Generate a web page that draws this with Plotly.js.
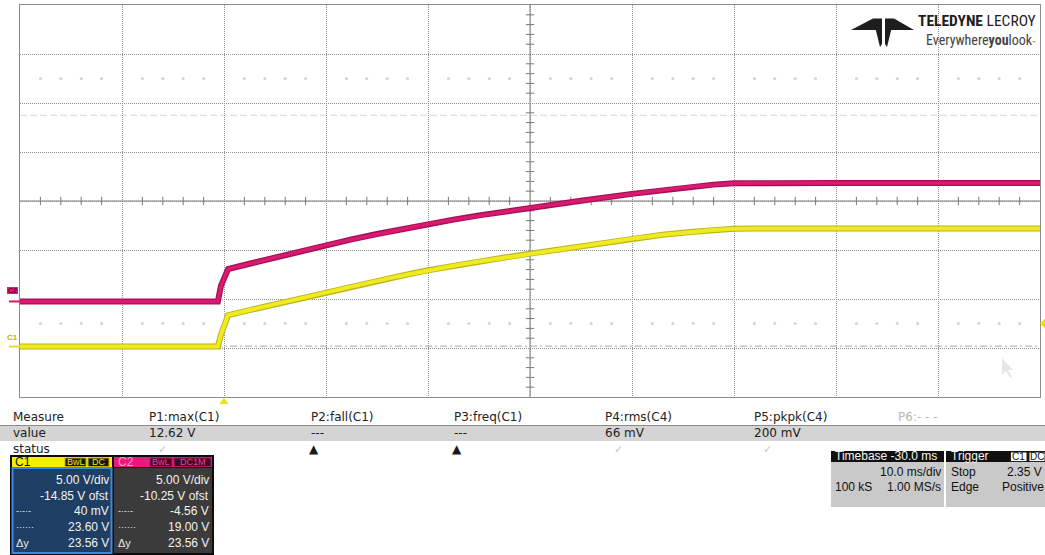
<!DOCTYPE html>
<html><head><meta charset="utf-8">
<script src="https://cdn.plot.ly/plotly-3.0.1.min.js"></script>
<style>html,body{margin:0;padding:0;background:#fff;overflow:hidden}#chart{width:1045px;height:555px}</style>
</head><body><div id="chart"></div>
<script>
// ---------- data ----------
const timeMs  = [-20, -0.6, -0.3, 0.4, 2.5, 5, 7.5, 10, 12.5, 15, 17.5, 20, 22.5, 25, 27.5, 30, 35, 40, 43, 46, 48, 50, 52, 60, 70, 80];
const c1Volts = [0, 0, 1.2, 3.2, 3.72, 4.33, 4.94, 5.53, 6.12, 6.7, 7.25, 7.78, 8.25, 8.68, 9.08, 9.48, 10.25, 11.0, 11.4, 11.72, 11.9, 12.02, 12.05, 12.05, 12.05, 12.05];
const c2Volts = [0, 0, 1.6, 3.3, 3.85, 4.5, 5.15, 5.75, 6.33, 6.88, 7.4, 7.9, 8.35, 8.78, 9.18, 9.55, 10.28, 10.98, 11.38, 11.72, 11.92, 12.05, 12.08, 12.08, 12.08, 12.08];

const voltsPerDiv = 5.0;
const c1Offset = -14.85;
const c2Offset = -10.25;
const msPerDiv = 10.0;
const timeStart = -20;          // left edge (timebase -30 ms, trigger 2 div from left)
const triggerLevel = 2.35;
const c1Cursors = [0.04, 23.60];

const measureNames  = ["P1:max(C1)", "P2:fall(C1)", "P3:freq(C1)", "P4:rms(C4)", "P5:pkpk(C4)", "P6:- - -"];
const measureValues = ["12.62 V", "---", "---", "66 mV", "200 mV", ""];
const measureStatus = ["ok", "warn", "warn", "ok", "ok", ""];
const c1Info = ["5.00 V/div", "-14.85 V ofst", "40 mV", "23.60 V", "23.56 V"];
const c2Info = ["5.00 V/div", "-10.25 V ofst", "-4.56 V", "19.00 V", "23.56 V"];
const cursorLabels = ["-·-·-", "······", "Δy"];
const timebaseInfo = ["Timebase -30.0 ms", "10.0 ms/div", "100 kS", "1.00 MS/s"];
const triggerInfo = ["Trigger", "Stop", "2.35 V", "Edge", "Positive"];

// ---------- geometry helpers ----------
const W = 1045, H = 555, L = 20, R = 5, T = 5, B = 158;
const PW = W - L - R, PH = H - T - B;
const px = x => (x - L) / PW;
const py = y => (H - B - y) / PH;

const shapes = [];
const ann = [];
function rect(x0, y0, x1, y1, fill, lc, lw) {
  shapes.push({type: 'rect', xref: 'paper', yref: 'paper', x0: px(x0), x1: px(x1), y0: py(y1), y1: py(y0),
    fillcolor: fill, line: {color: lc || fill, width: lw === undefined ? 0 : lw}, layer: 'above'});
}
function poly(pts, fill) {
  const d = pts.map((p, i) => (i ? 'L' : 'M') + px(p[0]).toFixed(5) + ',' + py(p[1]).toFixed(5)).join(' ') + ' Z';
  shapes.push({type: 'path', xref: 'paper', yref: 'paper', path: d, fillcolor: fill, line: {width: 0}, layer: 'above'});
}
function txt(x, y, s, o) {
  o = o || {};
  ann.push({xref: 'paper', yref: 'paper', x: px(x), y: py(y), text: s, showarrow: false,
    xanchor: o.anchor || 'left', yanchor: 'middle', borderpad: 0,
    font: {family: o.family || 'Liberation Sans, Arial, sans-serif', size: o.size || 12, color: o.color || '#111'}});
}

// ---------- axes ranges ----------
const c1Center = -c1Offset, c2Center = -c2Offset;
const c1Range = [c1Center - 4 * voltsPerDiv, c1Center + 4 * voltsPerDiv];
const c2Range = [c2Center - 4 * voltsPerDiv, c2Center + 4 * voltsPerDiv];
const xRange = [timeStart, timeStart + 10 * msPerDiv];
const tCenter = timeStart + 5 * msPerDiv;

// ---------- graticule decorations ----------
shapes.push({type: 'line', xref: 'x', yref: 'paper', x0: tCenter, x1: tCenter, y0: 0, y1: 1, line: {color: '#7a7a7a', width: 1}, layer: 'below'});
shapes.push({type: 'line', xref: 'paper', yref: 'y', x0: 0, x1: 1, y0: c1Center, y1: c1Center, line: {color: '#7a7a7a', width: 1}, layer: 'below'});
// cursors
shapes.push({type: 'line', xref: 'paper', yref: 'y', x0: 0, x1: 1, y0: c1Cursors[1], y1: c1Cursors[1], line: {color: '#d6d6d6', width: 1, dash: '7px,3px'}, layer: 'below'});
shapes.push({type: 'line', xref: 'paper', yref: 'y', x0: 0, x1: 1, y0: c1Cursors[0], y1: c1Cursors[0], line: {color: '#a8a8a8', width: 1, dash: '7px,3px,2px,3px'}, layer: 'below'});

const hTickX = [], hTickY = [], vTickX = [], vTickY = [], dotX = [], dotY = [];
for (let k = 0; k <= 50; k++) {
  if (k % 5 === 0) continue;
  const t = timeStart + k * msPerDiv / 5;
  hTickX.push(t); hTickY.push(c1Center);
  dotX.push(t); dotY.push(triggerLevel);
  dotX.push(t); dotY.push(triggerLevel + 5 * voltsPerDiv);
}
for (let k = 0; k <= 40; k++) {
  if (k % 5 === 0) continue;
  vTickX.push(tCenter); vTickY.push(c1Range[0] + k * voltsPerDiv / 5);
}

// trigger markers
shapes.push({type: 'path', xref: 'x', yref: 'paper', path: 'M 0,' + py(398) + ' L -0.45,' + py(404) + ' L 0.45,' + py(404) + ' Z', fillcolor: '#f0e000', line: {width: 0}});
shapes.push({type: 'path', xref: 'paper', yref: 'y', path: 'M ' + px(1040) + ',' + triggerLevel + ' L ' + px(1046) + ',' + (triggerLevel - 0.6) + ' L ' + px(1046) + ',' + (triggerLevel + 0.6) + ' Z', fillcolor: '#f0e000', line: {width: 0}});

// channel ground markers on the left
shapes.push({type: 'line', xref: 'paper', yref: 'y', x0: px(9), x1: px(20), y0: 0, y1: 0, line: {color: '#e0e020', width: 2}});
shapes.push({type: 'line', xref: 'paper', yref: 'y2', x0: px(9), x1: px(20), y0: 0, y1: 0, line: {color: '#d01a6e', width: 2}});
rect(7, 287, 18, 294, '#d8207a');
txt(12.5, 290.5, '<b>C2</b>', {anchor: 'center', size: 7, color: '#5a0028'});
txt(12.5, 337, '<b>C1</b>', {anchor: 'center', size: 8, color: '#b8b000'});

// mouse pointer (faint)
poly([[1002, 358], [1002, 375], [1006, 371], [1010, 378], [1012, 377], [1008, 370], [1013, 370]], '#e6e6e6');

// ---------- logo ----------
const logoFont = 'Roboto Condensed, Liberation Sans Narrow, Liberation Sans, Arial';
poly([[851, 30], [873, 18.5], [879, 30]], '#1e1e1e');
poly([[873, 18.5], [882, 18.5], [882, 44], [880, 47]], '#1e1e1e');
poly([[885, 18.5], [894, 18.5], [887, 47], [885, 44]], '#1e1e1e');
poly([[914, 30], [894, 18.5], [888, 30]], '#1e1e1e');
txt(1037, 21, '<b>TELEDYNE</b> LECROY', {anchor: 'right', size: 15.5, color: '#1e1e1e', family: logoFont});
txt(1036, 40, 'Everywhere<b>you</b>look<span style="font-size:6px">™</span>', {anchor: 'right', size: 14, color: '#444', family: logoFont});

// ---------- measure table ----------
const mFont = 'DejaVu Sans, Verdana, sans-serif';
rect(0, 426, 1045, 441, '#d4d4d4');
shapes.push({type: 'line', xref: 'paper', yref: 'paper', x0: px(0), x1: px(1045), y0: py(425.5), y1: py(425.5), line: {color: '#8a8a8a', width: 1}});
const colX = [148, 310, 453, 604, 753, 897];
txt(12, 417, 'Measure', {family: mFont, size: 12, color: '#222'});
txt(12, 433, 'value', {family: mFont, size: 12, color: '#222'});
txt(12, 449, 'status', {family: mFont, size: 12, color: '#222'});
measureNames.forEach((n, i) => {
  txt(colX[i], 417, n, {family: mFont, size: 12, color: i === 5 ? '#b8b8b8' : '#222'});
  if (measureValues[i]) txt(colX[i], 433, measureValues[i], {family: mFont, size: 12, color: '#222'});
  if (measureStatus[i] === 'ok') txt(colX[i] + 14, 449, '✓', {family: mFont, size: 11, color: '#c4c4c4', anchor: 'center'});
  if (measureStatus[i] === 'warn') txt(colX[i] + 4, 449, '▲', {family: mFont, size: 12, color: '#1a1a1a', anchor: 'center'});
});

// ---------- channel descriptor boxes ----------
rect(10, 455, 214, 555, '#0c0c0c');
// C1
rect(12, 457, 112, 467, '#f4f000');
txt(14, 462, 'C1', {size: 12, color: '#111'});
rect(65, 458, 86, 466.5, '#181800', '#bcb400', 1);
txt(75.5, 462.3, 'BwL', {anchor: 'center', size: 9, color: '#f0ea00'});
rect(88, 458, 109, 466.5, '#181800', '#bcb400', 1);
txt(98.5, 462.3, 'DC', {anchor: 'center', size: 9, color: '#f0ea00'});
rect(12.5, 468, 111.5, 553, '#1f3e63', '#3c8ae0', 2);
// C2
rect(114, 457, 212, 467, '#e81a7c');
txt(117, 462, 'C2', {size: 12, color: '#ff9fcf'});
rect(150, 458, 172, 466.5, '#3a0a22', '#c01466', 1);
txt(161, 462.3, 'BwL', {anchor: 'center', size: 9, color: '#ff3a98'});
rect(174, 458, 211, 466.5, '#3a0a22', '#c01466', 1);
txt(192.5, 462.3, 'DC1M', {anchor: 'center', size: 9, color: '#ff3a98'});
rect(114, 468, 212, 553, '#3b3b3b');
const rowY = [480, 495.5, 511, 527, 543];
c1Info.forEach((s, i) => txt(110, rowY[i], s, {anchor: 'right', size: 12, color: '#f2f2f2'}));
c2Info.forEach((s, i) => txt(210, rowY[i], s, {anchor: 'right', size: 12, color: '#f2f2f2'}));
cursorLabels.forEach((s, i) => {
  txt(15, rowY[i + 2], s, {size: i === 2 ? 11 : 9, color: '#e8e8e8'});
  txt(117, rowY[i + 2], s, {size: i === 2 ? 11 : 9, color: '#e8e8e8'});
});

// ---------- timebase / trigger boxes ----------
rect(831, 451, 944, 462, '#101010');
txt(834, 456.5, timebaseInfo[0], {size: 12, color: '#f4f4f4'});
rect(831, 462, 944, 507, '#c9c9c9');
txt(942, 471.5, timebaseInfo[1], {anchor: 'right', size: 12, color: '#111'});
txt(834, 487, timebaseInfo[2], {size: 12, color: '#111'});
txt(942, 487, timebaseInfo[3], {anchor: 'right', size: 12, color: '#111'});
rect(946, 451, 1045, 462, '#101010');
txt(950, 456.5, triggerInfo[0], {size: 12, color: '#f4f4f4'});
rect(1010.5, 452, 1027, 461.5, '#ffffff', '#222', 1);
txt(1018.7, 456.8, 'C1', {anchor: 'center', size: 10, color: '#111'});
rect(1029, 452, 1045, 461.5, '#ffffff', '#222', 1);
txt(1037, 456.8, 'DC', {anchor: 'center', size: 10, color: '#111'});
rect(946, 462, 1045, 507, '#c9c9c9');
txt(950, 471.5, triggerInfo[1], {size: 12, color: '#111'});
txt(1043, 471.5, triggerInfo[2], {anchor: 'right', size: 12, color: '#111'});
txt(950, 487, triggerInfo[3], {size: 12, color: '#111'});
txt(1045, 487, triggerInfo[4], {anchor: 'right', size: 12, color: '#111'});

// ---------- traces ----------
const traces = [
  {x: dotX, y: dotY, yaxis: 'y', mode: 'markers', marker: {size: 3, color: '#d2d2d2'}, hoverinfo: 'skip'},
  {x: hTickX, y: hTickY, yaxis: 'y', mode: 'markers', marker: {symbol: 'line-ns', size: 6, line: {width: 1, color: '#7a7a7a'}}, hoverinfo: 'skip'},
  {x: vTickX, y: vTickY, yaxis: 'y', mode: 'markers', marker: {symbol: 'line-ew', size: 6, line: {width: 1, color: '#7a7a7a'}}, hoverinfo: 'skip'},
  {x: timeMs, y: c2Volts, yaxis: 'y2', mode: 'lines', line: {color: '#a80f52', width: 6}},
  {x: timeMs, y: c2Volts, yaxis: 'y2', mode: 'lines', line: {color: '#d81a72', width: 3.5}},
  {x: timeMs, y: c1Volts, yaxis: 'y', mode: 'lines', line: {color: '#b8b41c', width: 6}},
  {x: timeMs, y: c1Volts, yaxis: 'y', mode: 'lines', line: {color: '#efeb20', width: 4}}
];

const gridCommon = {showgrid: true, gridcolor: '#909090', griddash: '1px,1px', gridwidth: 1,
  showticklabels: false, ticks: '', zeroline: false, showline: true, mirror: true, linecolor: '#8c8c8c', linewidth: 1, fixedrange: true};

const layout = {
  width: W, height: H,
  margin: {l: L, r: R, t: T, b: B, pad: 0},
  paper_bgcolor: '#ffffff', plot_bgcolor: '#ffffff',
  showlegend: false, hovermode: false,
  xaxis: Object.assign({range: xRange, tick0: timeStart, dtick: msPerDiv}, gridCommon),
  yaxis: Object.assign({range: c1Range, tick0: c1Range[0], dtick: voltsPerDiv}, gridCommon),
  yaxis2: {range: c2Range, overlaying: 'y', visible: false, fixedrange: true},
  shapes: shapes, annotations: ann
};

Plotly.newPlot('chart', traces, layout, {displayModeBar: false, staticPlot: true});
</script></body></html>
